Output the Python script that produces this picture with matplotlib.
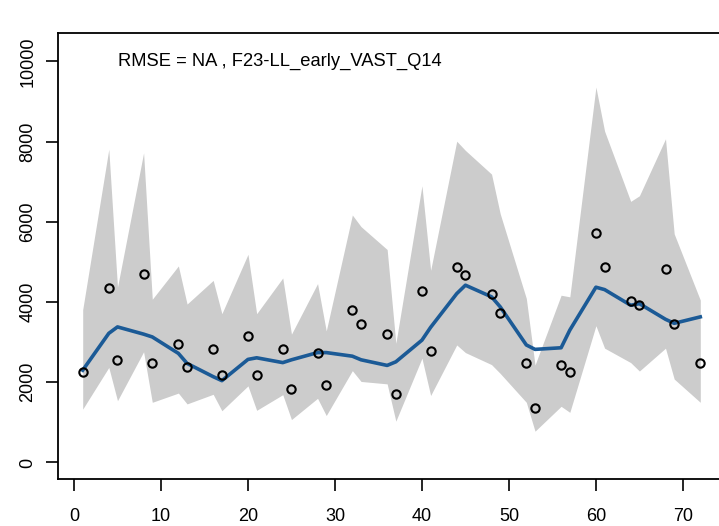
import numpy as np
import matplotlib
matplotlib.use('Agg')
import matplotlib.pyplot as plt

plt.rcParams['font.family'] = ['Liberation Sans', 'DejaVu Sans']

# time steps with observations
x = [1, 4, 5, 8, 9, 12, 13, 16, 17, 20, 21, 24, 25, 28, 29, 32, 33, 36,
     37, 40, 41, 44, 45, 48, 49, 52, 53, 56, 57, 60, 61, 64, 65, 68, 69, 72]
obs = [2260, 4360, 2560, 4710, 2470, 2950, 2390, 2820, 2180, 3160, 2180, 2820,
       1830, 2720, 1920, 3800, 3460, 3200, 1700, 4280, 2770, 4880, 4670, 4190,
       3720, 2470, 1360, 2430, 2250, 5730, 4870, 4020, 3930, 4830, 3460, 2470]
est = [2300, 3220, 3380, 3200, 3130, 2720, 2470, 2140, 2040, 2570, 2610, 2490,
       2560, 2740, 2740, 2650, 2560, 2420, 2510, 3050, 3370, 4210, 4420, 4130,
       3880, 2930, 2820, 2860, 3300, 4370, 4310, 3920, 3960, 3570, 3470, 3630]
upper = [3810, 7810, 4370, 7720, 4070, 4900, 3950, 4540, 3710, 5190, 3710, 4600,
         3200, 4460, 3280, 6170, 5880, 5310, 2970, 6900, 4790, 8010, 7780, 7190,
         6200, 4090, 2430, 4170, 4130, 9360, 8260, 6510, 6650, 8070, 5700, 4050]
lower = [1330, 2370, 1540, 2760, 1500, 1730, 1460, 1700, 1290, 1910, 1300, 1690,
         1070, 1600, 1170, 2290, 2020, 1960, 1030, 2600, 1670, 2930, 2740, 2440,
         2220, 1500, 780, 1400, 1250, 3410, 2850, 2490, 2280, 2850, 2080, 1500]

fig = plt.figure(figsize=(7.19, 5.26), dpi=100)
ax = fig.add_axes([58 / 719, 47 / 526, 667 / 719, 446 / 526])

ax.fill_between(x, lower, upper, color='#cccccc', lw=0)
ax.plot(x, est, color='#1b5a96', lw=2.6, solid_joinstyle='round')
ax.plot(x, obs, 'o', mfc='none', mec='black', mew=1.5, ms=6, ls='none')

ax.text(5.1, 10000, 'RMSE = NA , F23-LL_early_VAST_Q14', fontsize=13.2, va='center', ha='left')

ymax = max(upper) * 1.1
ax.set_ylim(-0.04 * ymax, ymax * 1.04)
ax.set_xlim(1 - 0.04 * 71, 72 + 0.04 * 71)
ax.set_xticks(np.arange(0, 71, 10))
ax.set_yticks(np.arange(0, 10001, 2000))
ax.tick_params(labelsize=13, length=8.7, width=1.2, color='black')
ax.tick_params(axis='x', pad=12)
ax.tick_params(axis='y', pad=7)
for lab in ax.get_yticklabels():
    lab.set_rotation(90)
    lab.set_va('center')
for s in ax.spines.values():
    s.set_linewidth(1.3)

fig.savefig('out.png', dpi=100)
